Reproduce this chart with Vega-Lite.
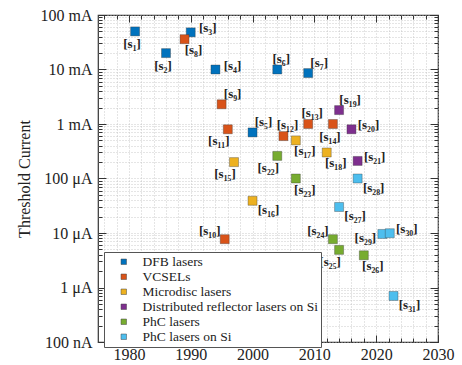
{
  "$schema": "https://vega.github.io/schema/vega-lite/v6.json",
  "autosize": {"type": "none"},
  "padding": {"left": 98, "top": 15, "right": 24, "bottom": 23},
  "width": 340,
  "height": 327,
  "background": "white",
  "config": {
    "view": {"stroke": "#333", "strokeWidth": 1.2},
    "axis": {"domain": false, "tickColor": "#333", "tickWidth": 1, "labelFont": "Liberation Serif", "titleFont": "Liberation Serif"},
    "text": {"font": "Liberation Serif"}
  },
  "data": {"values": [
    {"ref": "s1", "label": "[s₁]", "type": "DFB lasers", "year": 1981, "current": 0.050, "side": "below"},
    {"ref": "s2", "label": "[s₂]", "type": "DFB lasers", "year": 1986, "current": 0.020, "side": "below"},
    {"ref": "s3", "label": "[s₃]", "type": "DFB lasers", "year": 1990, "current": 0.048, "side": "right"},
    {"ref": "s4", "label": "[s₄]", "type": "DFB lasers", "year": 1994, "current": 0.010, "side": "right"},
    {"ref": "s5", "label": "[s₅]", "type": "DFB lasers", "year": 2000, "current": 0.0007, "side": "aboveright"},
    {"ref": "s6", "label": "[s₆]", "type": "DFB lasers", "year": 2004, "current": 0.010, "side": "above"},
    {"ref": "s7", "label": "[s₇]", "type": "DFB lasers", "year": 2009, "current": 0.0086, "side": "aboveright"},
    {"ref": "s8", "label": "[s₈]", "type": "VCSELs", "year": 1989, "current": 0.036, "side": "belowright"},
    {"ref": "s9", "label": "[s₉]", "type": "VCSELs", "year": 1995, "current": 0.0023, "side": "aboveright"},
    {"ref": "s10", "label": "[s₁₀]", "type": "VCSELs", "year": 1995.5, "current": 7.7e-6, "side": "aboveleft"},
    {"ref": "s11", "label": "[s₁₁]", "type": "VCSELs", "year": 1996, "current": 0.0008, "side": "belowleft"},
    {"ref": "s12", "label": "[s₁₂]", "type": "VCSELs", "year": 2005, "current": 0.0006, "side": "above"},
    {"ref": "s13", "label": "[s₁₃]", "type": "VCSELs", "year": 2009, "current": 0.001, "side": "above"},
    {"ref": "s14", "label": "[s₁₄]", "type": "VCSELs", "year": 2013, "current": 0.001, "side": "below"},
    {"ref": "s15", "label": "[s₁₅]", "type": "Microdisc lasers", "year": 1997, "current": 0.0002, "side": "belowleft"},
    {"ref": "s16", "label": "[s₁₆]", "type": "Microdisc lasers", "year": 2000, "current": 3.9e-5, "side": "farright"},
    {"ref": "s17", "label": "[s₁₇]", "type": "Microdisc lasers", "year": 2007, "current": 0.0005, "side": "belowright"},
    {"ref": "s18", "label": "[s₁₈]", "type": "Microdisc lasers", "year": 2012, "current": 0.0003, "side": "belowright"},
    {"ref": "s19", "label": "[s₁₉]", "type": "Distributed reflector lasers on Si", "year": 2014, "current": 0.0018, "side": "aboveright"},
    {"ref": "s20", "label": "[s₂₀]", "type": "Distributed reflector lasers on Si", "year": 2016, "current": 0.0008, "side": "right"},
    {"ref": "s21", "label": "[s₂₁]", "type": "Distributed reflector lasers on Si", "year": 2017, "current": 0.00021, "side": "right"},
    {"ref": "s22", "label": "[s₂₂]", "type": "PhC lasers", "year": 2004, "current": 0.00026, "side": "belowleft"},
    {"ref": "s23", "label": "[s₂₃]", "type": "PhC lasers", "year": 2007, "current": 0.0001, "side": "belowright"},
    {"ref": "s24", "label": "[s₂₄]", "type": "PhC lasers", "year": 2013, "current": 7.7e-6, "side": "aboveleft"},
    {"ref": "s25", "label": "[s₂₅]", "type": "PhC lasers", "year": 2014, "current": 4.9e-6, "side": "belowleft"},
    {"ref": "s26", "label": "[s₂₆]", "type": "PhC lasers", "year": 2018, "current": 3.9e-6, "side": "belowright"},
    {"ref": "s27", "label": "[s₂₇]", "type": "PhC lasers on Si", "year": 2014, "current": 3.0e-5, "side": "farright"},
    {"ref": "s28", "label": "[s₂₈]", "type": "PhC lasers on Si", "year": 2017, "current": 0.0001, "side": "farright"},
    {"ref": "s29", "label": "[s₂₉]", "type": "PhC lasers on Si", "year": 2021, "current": 9.6e-6, "side": "left"},
    {"ref": "s30", "label": "[s₃₀]", "type": "PhC lasers on Si", "year": 2022.2, "current": 9.9e-6, "side": "right"},
    {"ref": "s31", "label": "[s₃₁]", "type": "PhC lasers on Si", "year": 2022.8, "current": 7.0e-7, "side": "farright"}
  ]},
  "resolve": {"axis": {"x": "independent", "y": "independent"}},
  "layer": [
    {
      "transform": [{"filter": "datum.side == 'below'"}],
      "mark": {"type": "text", "dx": -3, "dy": 13, "font": "Liberation Serif", "fontWeight": "bold", "fontSize": 13, "color": "#222"},
      "encoding": {
        "x": {"field": "year", "type": "quantitative", "scale": {"domain": [1975, 2030], "nice": false, "zero": false},
          "axis": {"orient": "bottom", "values": [1976,1978,1980,1982,1984,1986,1988,1990,1992,1994,1996,1998,2000,2002,2004,2006,2008,2010,2012,2014,2016,2018,2020,2022,2024,2026,2028,2030], "labels": false, "tickSize": -4, "grid": true, "gridDash": [1, 2], "gridColor": "#bdbdbd", "gridWidth": 0.8, "title": null}},
        "y": {"field": "current", "type": "quantitative", "scale": {"type": "log", "domain": [1e-7, 0.1], "nice": false},
          "axis": {"orient": "left", "values": [1e-7,2e-7,3e-7,4e-7,5e-7,6e-7,7e-7,8e-7,9e-7,1e-6,2e-6,3e-6,4e-6,5e-6,6e-6,7e-6,8e-6,9e-6,1e-5,2e-5,3e-5,4e-5,5e-5,6e-5,7e-5,8e-5,9e-5,1e-4,2e-4,3e-4,4e-4,5e-4,6e-4,7e-4,8e-4,9e-4,1e-3,2e-3,3e-3,4e-3,5e-3,6e-3,7e-3,8e-3,9e-3,1e-2,2e-2,3e-2,4e-2,5e-2,6e-2,7e-2,8e-2,9e-2,0.1], "labels": false, "tickSize": -4, "grid": true, "gridDash": [1, 2], "gridColor": "#bdbdbd", "gridWidth": 0.8, "title": null}},
        "text": {"field": "label"}
      }
    },
    {
      "mark": {"type": "square", "size": 81, "filled": true, "opacity": 1, "stroke": "#333", "strokeWidth": 0.5, "strokeOpacity": 0.7},
      "encoding": {
        "x": {"field": "year", "type": "quantitative",
          "axis": {"orient": "bottom", "values": [1980, 1990, 2000, 2010, 2020, 2030], "format": "d", "tickSize": -7, "labelFont": "Liberation Serif", "labelFontSize": 16, "labelColor": "#222", "labelPadding": 11, "labelFlush": false, "labelOverlap": false, "labelBound": false, "title": null, "grid": false}},
        "y": {"field": "current", "type": "quantitative",
          "axis": {"orient": "left", "values": [1e-7, 1e-6, 1e-5, 1e-4, 1e-3, 1e-2, 0.1], "labelExpr": "datum.value > 0.05 ? '100 mA' : datum.value > 0.005 ? '10 mA' : datum.value > 0.0005 ? '1 mA' : datum.value > 0.00005 ? '100 μA' : datum.value > 0.000005 ? '10 μA' : datum.value > 0.0000005 ? '1 μA' : '100 nA'", "tickSize": -8, "labelFont": "Liberation Serif", "labelFontSize": 16, "labelColor": "#222", "labelPadding": 14, "labelFlush": false, "labelOverlap": false, "labelBound": false, "title": "Threshold Current", "titleFont": "Liberation Serif", "titleFontSize": 16, "titleFontWeight": "normal", "titleColor": "#222", "titlePadding": 8, "grid": false}},
        "color": {"field": "type", "type": "nominal",
          "scale": {"domain": ["DFB lasers", "VCSELs", "Microdisc lasers", "Distributed reflector lasers on Si", "PhC lasers", "PhC lasers on Si"], "range": ["#0072BD", "#D95319", "#EDB120", "#7E2F8E", "#77AC30", "#4DBEEE"]},
          "legend": {"orient": "none", "legendX": 6, "legendY": 237, "title": null, "fillColor": "white", "strokeColor": "#555", "padding": 3, "labelFont": "Liberation Serif", "labelFontSize": 13.5, "labelColor": "#222", "labelLimit": 300, "symbolType": "square", "symbolSize": 30, "symbolStrokeWidth": 0.5, "symbolStrokeColor": "#444", "symbolOffset": 10, "labelOffset": 12, "rowPadding": 0}}
      }
    },
    {
      "transform": [{"filter": "datum.side == 'above'"}],
      "mark": {"type": "text", "dx": 4, "dy": -11, "font": "Liberation Serif", "fontWeight": "bold", "fontSize": 13, "color": "#222"},
      "encoding": {
        "x": {"field": "year", "type": "quantitative",
          "axis": {"orient": "top", "values": [1980, 1990, 2000, 2010, 2020, 2030], "labels": false, "tickSize": -7, "title": null, "grid": false}},
        "y": {"field": "current", "type": "quantitative",
          "axis": {"orient": "right", "values": [1e-7, 1e-6, 1e-5, 1e-4, 1e-3, 1e-2, 0.1], "labels": false, "tickSize": -8, "title": null, "grid": false}},
        "text": {"field": "label"}
      }
    },
    {
      "transform": [{"filter": "datum.side == 'aboveright'"}],
      "mark": {"type": "text", "dx": 11, "dy": -10, "font": "Liberation Serif", "fontWeight": "bold", "fontSize": 13, "color": "#222"},
      "encoding": {
        "x": {"field": "year", "type": "quantitative",
          "axis": {"orient": "top", "values": [1976,1978,1980,1982,1984,1986,1988,1990,1992,1994,1996,1998,2000,2002,2004,2006,2008,2010,2012,2014,2016,2018,2020,2022,2024,2026,2028,2030], "labels": false, "tickSize": -4, "title": null, "grid": false}},
        "y": {"field": "current", "type": "quantitative",
          "axis": {"orient": "right", "values": [1e-7,2e-7,3e-7,4e-7,5e-7,6e-7,7e-7,8e-7,9e-7,1e-6,2e-6,3e-6,4e-6,5e-6,6e-6,7e-6,8e-6,9e-6,1e-5,2e-5,3e-5,4e-5,5e-5,6e-5,7e-5,8e-5,9e-5,1e-4,2e-4,3e-4,4e-4,5e-4,6e-4,7e-4,8e-4,9e-4,1e-3,2e-3,3e-3,4e-3,5e-3,6e-3,7e-3,8e-3,9e-3,1e-2,2e-2,3e-2,4e-2,5e-2,6e-2,7e-2,8e-2,9e-2,0.1], "labels": false, "tickSize": -4, "title": null, "grid": false}},
        "text": {"field": "label"}
      }
    },
    {
      "transform": [{"filter": "datum.side == 'right'"}],
      "mark": {"type": "text", "dx": 17, "dy": -4, "font": "Liberation Serif", "fontWeight": "bold", "fontSize": 13, "color": "#222"},
      "encoding": {
        "x": {"field": "year", "type": "quantitative", "axis": null},
        "y": {"field": "current", "type": "quantitative", "axis": null},
        "text": {"field": "label"}
      }
    },
    {
      "transform": [{"filter": "datum.side == 'belowright'"}],
      "mark": {"type": "text", "dx": 9, "dy": 11, "font": "Liberation Serif", "fontWeight": "bold", "fontSize": 13, "color": "#222"},
      "encoding": {
        "x": {"field": "year", "type": "quantitative", "axis": null},
        "y": {"field": "current", "type": "quantitative", "axis": null},
        "text": {"field": "label"}
      }
    },
    {
      "transform": [{"filter": "datum.side == 'farright'"}],
      "mark": {"type": "text", "dx": 16, "dy": 9, "font": "Liberation Serif", "fontWeight": "bold", "fontSize": 13, "color": "#222"},
      "encoding": {
        "x": {"field": "year", "type": "quantitative", "axis": null},
        "y": {"field": "current", "type": "quantitative", "axis": null},
        "text": {"field": "label"}
      }
    },
    {
      "transform": [{"filter": "datum.side == 'belowleft'"}],
      "mark": {"type": "text", "dx": -9, "dy": 12, "font": "Liberation Serif", "fontWeight": "bold", "fontSize": 13, "color": "#222"},
      "encoding": {
        "x": {"field": "year", "type": "quantitative", "axis": null},
        "y": {"field": "current", "type": "quantitative", "axis": null},
        "text": {"field": "label"}
      }
    },
    {
      "transform": [{"filter": "datum.side == 'aboveleft'"}],
      "mark": {"type": "text", "dx": -15, "dy": -8, "font": "Liberation Serif", "fontWeight": "bold", "fontSize": 13, "color": "#222"},
      "encoding": {
        "x": {"field": "year", "type": "quantitative", "axis": null},
        "y": {"field": "current", "type": "quantitative", "axis": null},
        "text": {"field": "label"}
      }
    },
    {
      "transform": [{"filter": "datum.side == 'left'"}],
      "mark": {"type": "text", "dx": -17, "dy": 4, "font": "Liberation Serif", "fontWeight": "bold", "fontSize": 13, "color": "#222"},
      "encoding": {
        "x": {"field": "year", "type": "quantitative", "axis": null},
        "y": {"field": "current", "type": "quantitative", "axis": null},
        "text": {"field": "label"}
      }
    }
  ]
}
